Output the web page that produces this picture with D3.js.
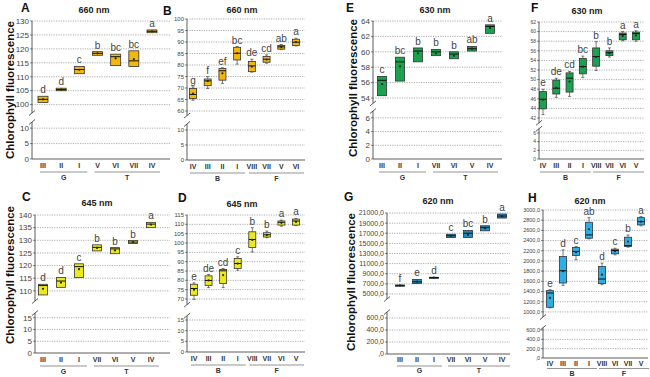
<!DOCTYPE html>
<html>
<head>
<meta charset="utf-8">
<script src="https://cdn.jsdelivr.net/npm/d3@7"></script>
<style>
  body { margin: 0; background: #fff; }
  text { font-family: "Liberation Sans", Arial, sans-serif; }
</style>
</head>
<body>
<div id="canvas"></div>
<script>
"use strict";

// ---------------- DATA ----------------
// stats per box: [whiskerLow, q1, median, q3, whiskerHigh, mean]
let catsA = ["III", "II", "I", "V", "VI", "VII", "IV"];
let boxA = [
    [100.8, 100.8, 101.9, 103.0, 103.0, 101.9],
    [105.0, 105.0, 105.4, 105.9, 105.9, 105.4],
    [111.1, 111.1, 112.6, 113.7, 113.7, 112.5],
    [117.7, 117.7, 118.4, 119.0, 119.0, 118.4],
    [114.0, 114.0, 117.2, 118.1, 118.1, 116.6],
    [113.7, 113.7, 115.7, 119.3, 119.3, 116.3],
    [125.8, 125.8, 126.3, 126.8, 126.8, 126.3]
];
let lettersA = ["d", "d", "c", "b", "bc", "bc", "a"];

let catsB = ["IV", "III", "II", "I", "VIII", "VII", "V", "VI"];
let boxB = [
    [64.7, 65.4, 67.2, 69.8, 70.5, 67.6],
    [69.8, 71.0, 73.1, 73.9, 74.9, 73.0],
    [72.0, 73.4, 77.5, 78.5, 78.8, 76.4],
    [80.4, 82.2, 85.1, 87.7, 88.0, 85.1],
    [76.9, 77.1, 79.6, 81.5, 82.5, 79.3],
    [80.8, 81.2, 82.5, 83.7, 84.4, 82.4],
    [86.7, 86.9, 87.9, 88.5, 88.9, 87.8],
    [88.3, 88.5, 89.9, 91.2, 91.6, 90.0]
];
let lettersB = ["g", "f", "ef", "bc", "de", "cd", "ab", "a"];

let catsC = ["III", "II", "I", "VII", "VI", "V", "IV"];
let boxC = [
    [108.4, 108.4, 112.1, 112.6, 112.6, 110.8],
    [111.4, 111.4, 113.9, 115.3, 115.3, 113.3],
    [115.3, 115.3, 119.6, 120.7, 120.7, 118.6],
    [125.8, 125.8, 127.2, 128.2, 128.2, 127.0],
    [124.7, 124.7, 126.6, 127.1, 127.1, 126.0],
    [128.7, 128.7, 129.3, 129.9, 129.9, 129.3],
    [135.0, 135.0, 136.4, 137.1, 137.1, 136.2]
];
let lettersC = ["d", "d", "c", "b", "b", "b", "a"];

let catsD = ["IV", "III", "II", "I", "VIII", "VII", "VI", "V"];
let boxD = [
    [69.8, 72.0, 75.6, 77.9, 78.6, 75.0],
    [76.1, 77.3, 79.9, 82.4, 83.1, 80.0],
    [76.1, 78.3, 85.1, 85.8, 86.3, 82.8],
    [85.4, 86.3, 89.0, 91.7, 92.6, 89.0],
    [95.2, 97.6, 101.9, 106.0, 108.2, 101.6],
    [102.8, 103.2, 104.4, 105.5, 106.4, 104.3],
    [109.0, 109.6, 111.1, 111.8, 112.3, 110.8],
    [109.3, 109.6, 111.8, 112.8, 113.2, 111.3]
];
let lettersD = ["e", "de", "cd", "c", "b", "b", "a", "a"];

let catsE = ["III", "II", "I", "VII", "VI", "V", "IV"];
let boxE = [
    [54.3, 54.3, 56.3, 56.8, 56.8, 55.8],
    [56.2, 56.2, 58.7, 59.3, 59.3, 58.1],
    [58.7, 58.7, 60.1, 60.5, 60.5, 59.8],
    [59.5, 59.5, 60.0, 60.3, 60.3, 59.8],
    [59.1, 59.1, 59.7, 60.0, 60.0, 59.5],
    [60.1, 60.1, 60.4, 60.7, 60.7, 60.4],
    [62.4, 62.4, 63.3, 63.5, 63.5, 63.1]
];
let lettersE = ["c", "bc", "b", "b", "b", "ab", "a"];

let catsF = ["IV", "III", "II", "I", "VIII", "VII", "VI", "V"];
let boxF = [
    [42.7, 43.9, 45.9, 47.5, 48.0, 45.8],
    [46.3, 47.0, 48.2, 49.9, 50.3, 48.3],
    [46.5, 47.4, 50.3, 51.4, 51.7, 49.6],
    [50.4, 51.2, 52.7, 54.4, 54.9, 52.7],
    [51.9, 52.8, 54.8, 56.6, 57.9, 54.7],
    [54.7, 55.0, 55.6, 56.0, 56.6, 55.5],
    [58.1, 58.3, 59.4, 59.7, 60.0, 59.1],
    [58.0, 58.3, 59.6, 59.9, 60.2, 59.2]
];
let lettersF = ["e", "de", "cd", "bc", "b", "b", "a", "a"];

let catsG = ["III", "II", "I", "VII", "VI", "V", "IV"];
let boxG = [
    [6600, 6600, 6700, 6750, 6750, 6680],
    [7060, 7060, 7400, 7860, 7860, 7450],
    [8150, 8150, 8250, 8300, 8300, 8230],
    [16150, 16150, 16500, 16800, 16800, 16480],
    [16150, 16150, 17000, 17550, 17550, 16700],
    [17480, 17480, 18150, 18480, 18480, 18000],
    [20000, 20000, 20400, 20800, 20800, 20350]
];
let lettersG = ["f", "e", "d", "c", "bc", "b", "a"];

let catsH = ["IV", "III", "II", "I", "VIII", "VI", "VII", "V"];
let boxH = [
    [1078, 1091, 1371, 1417, 1436, 1274],
    [1521, 1567, 1808, 2088, 2218, 1800],
    [2023, 2107, 2186, 2264, 2283, 2170],
    [2433, 2446, 2511, 2759, 2850, 2622],
    [1534, 1554, 1645, 1893, 1958, 1730],
    [2120, 2140, 2205, 2231, 2250, 2190],
    [2270, 2283, 2303, 2466, 2510, 2381],
    [2690, 2707, 2772, 2850, 2870, 2770]
];
let lettersH = ["e", "d", "c", "ab", "d", "c", "b", "a"];

let groupsGT = [{ name: "G", from: 0, to: 2 }, { name: "T", from: 3, to: 6 }];
let groupsBF = [{ name: "B", from: 0, to: 3 }, { name: "F", from: 4, to: 7 }];

// ---------------- SVG ----------------
let svgWidth = 650;
let svgHeight = 377;

let svg = d3.select("#canvas")
    .append("svg")
    .attr("width", svgWidth)
    .attr("height", svgHeight);

let yTitle = "Chlorophyll fluorescence";

let fmtInt = d => String(d);
let fmtComma = d => d === 0 ? ",0" : d + ",0";

/* ---------------- PANEL ---------------- */
function drawPanel(p) {

    let g = svg.append("g");

    let yUp = d3.scaleLinear().domain(p.upDomain).range(p.upRange);
    let yLo = d3.scaleLinear().domain(p.loDomain).range(p.loRange);
    let x = d3.scalePoint().domain(d3.range(p.cats.length)).range(p.catRange);

    let y0 = yLo(0);
    let off = p.offsets || [9, 13, 21];

    // panel letter + title
    g.append("text")
        .attr("x", p.letterX)
        .attr("y", p.letterY)
        .attr("font-size", "12px")
        .attr("font-weight", "bold")
        .attr("fill", "#111")
        .text(p.label);

    g.append("text")
        .attr("x", p.titleX)
        .attr("y", p.titleY)
        .attr("text-anchor", "middle")
        .attr("font-size", "9px")
        .attr("font-weight", "bold")
        .attr("fill", "#222")
        .text(p.title);

    if (p.yTitleX) {
        g.append("text")
            .attr("transform", "translate(" + p.yTitleX + "," + p.yTitleY + ") rotate(-90)")
            .attr("text-anchor", "middle")
            .attr("font-size", "11.5px")
            .attr("font-weight", "bold")
            .attr("fill", "#111")
            .text(yTitle);
    }

    // gridlines + tick labels
    let gridTicks = [];
    p.upTicks.forEach(t => gridTicks.push(yUp(t)));
    p.loTicks.forEach(t => { if (t !== 0) gridTicks.push(yLo(t)); });

    gridTicks.forEach(function (yy) {
        g.append("line")
            .attr("x1", p.x0)
            .attr("x2", p.x1)
            .attr("y1", yy)
            .attr("y2", yy)
            .attr("stroke", "#999")
            .attr("stroke-width", 0.8)
            .attr("stroke-dasharray", "1.2,1.2");
    });

    let tickLabels = p.upTicks.map(t => ({ v: t, y: yUp(t) }))
        .concat(p.loTicks.map(t => ({ v: t, y: yLo(t) })));

    tickLabels.forEach(function (t) {
        g.append("line")
            .attr("x1", p.x0 - 2)
            .attr("x2", p.x0)
            .attr("y1", t.y)
            .attr("y2", t.y)
            .attr("stroke", "#555")
            .attr("stroke-width", 0.7);
        g.append("text")
            .attr("x", p.x0 - 3)
            .attr("y", t.y)
            .attr("dy", "0.35em")
            .attr("text-anchor", "end")
            .attr("font-size", p.tickSize)
            .attr("fill", "#444")
            .text(p.fmt(t.v));
    });

    // axis with break
    let breakTop = p.upRange[0];
    let breakBot = p.loRange[1];

    g.append("line")
        .attr("x1", p.x0).attr("x2", p.x0)
        .attr("y1", p.upRange[1]).attr("y2", breakTop)
        .attr("stroke", "#333").attr("stroke-width", 0.8);

    g.append("line")
        .attr("x1", p.x0).attr("x2", p.x0)
        .attr("y1", breakBot).attr("y2", y0)
        .attr("stroke", "#333").attr("stroke-width", 0.8);

    [breakTop, breakBot].forEach(function (yy) {
        g.append("line")
            .attr("x1", p.x0 - 3).attr("x2", p.x0 + 3)
            .attr("y1", yy + 2.5).attr("y2", yy - 2.5)
            .attr("stroke", "#333").attr("stroke-width", 0.8);
    });

    g.append("line")
        .attr("x1", p.x0).attr("x2", p.x1)
        .attr("y1", y0).attr("y2", y0)
        .attr("stroke", "#333").attr("stroke-width", 0.8);

    // boxes
    let bw = p.boxWidth;

    p.stats.forEach(function (s, i) {
        let cx = x(i);
        let lo = s[0], q1 = s[1], med = s[2], q3 = s[3], hi = s[4], mean = s[5];

        if (hi > q3) {
            g.append("line").attr("x1", cx).attr("x2", cx)
                .attr("y1", yUp(q3)).attr("y2", yUp(hi))
                .attr("stroke", "#444").attr("stroke-width", 0.7);
            g.append("line").attr("x1", cx - 1.5).attr("x2", cx + 1.5)
                .attr("y1", yUp(hi)).attr("y2", yUp(hi))
                .attr("stroke", "#444").attr("stroke-width", 0.7);
        }
        if (lo < q1) {
            g.append("line").attr("x1", cx).attr("x2", cx)
                .attr("y1", yUp(q1)).attr("y2", yUp(lo))
                .attr("stroke", "#444").attr("stroke-width", 0.7);
            g.append("line").attr("x1", cx - 1.5).attr("x2", cx + 1.5)
                .attr("y1", yUp(lo)).attr("y2", yUp(lo))
                .attr("stroke", "#444").attr("stroke-width", 0.7);
        }

        let top = yUp(q3);
        let h = Math.max(yUp(q1) - top, 1.2);

        g.append("rect")
            .attr("x", cx - bw / 2)
            .attr("y", top)
            .attr("width", bw)
            .attr("height", h)
            .attr("fill", p.color)
            .attr("stroke", "#333")
            .attr("stroke-width", 0.8);

        g.append("line")
            .attr("x1", cx - bw / 2).attr("x2", cx + bw / 2)
            .attr("y1", yUp(med)).attr("y2", yUp(med))
            .attr("stroke", "#111").attr("stroke-width", 1);

        g.append("circle")
            .attr("cx", cx)
            .attr("cy", yUp(mean))
            .attr("r", 1.1)
            .attr("fill", "#222");

        g.append("text")
            .attr("x", cx)
            .attr("y", yUp(Math.max(hi, q3)) - 3)
            .attr("text-anchor", "middle")
            .attr("font-size", "10px")
            .attr("fill", "#444")
            .text(p.letters[i]);
    });

    // category labels
    p.cats.forEach(function (c, i) {
        g.append("text")
            .attr("x", x(i))
            .attr("y", y0 + off[0])
            .attr("text-anchor", "middle")
            .attr("font-size", "7px")
            .attr("font-weight", "bold")
            .attr("fill", "#333")
            .text(c);
    });

    // group lines
    p.groups.forEach(function (gr) {
        let left = x(gr.from) - 3;
        let right = x(gr.to) + 8;
        g.append("line")
            .attr("x1", left).attr("x2", right)
            .attr("y1", y0 + off[1]).attr("y2", y0 + off[1])
            .attr("stroke", "#888").attr("stroke-width", 0.9);
        g.append("text")
            .attr("x", (left + right) / 2)
            .attr("y", y0 + off[2])
            .attr("text-anchor", "middle")
            .attr("font-size", "7px")
            .attr("font-weight", "bold")
            .attr("fill", "#333")
            .text(gr.name);
    });
}

/* ---------------- PANELS ---------------- */
drawPanel({
    label: "A", letterX: 21, letterY: 12, title: "660 nm", titleX: 94, titleY: 13,
    yTitleX: 14, yTitleY: 90,
    x0: 32, x1: 170,
    upDomain: [97, 130], upRange: [113, 21], upTicks: d3.range(100, 131, 5),
    loDomain: [0, 12], loRange: [159, 122], loTicks: [0, 5, 10],
    cats: catsA, stats: boxA, letters: lettersA, catRange: [43, 152],
    groups: groupsGT, color: "#f3b80c", boxWidth: 10, tickSize: "8px", fmt: fmtInt
});

drawPanel({
    label: "B", letterX: 163, letterY: 15, title: "660 nm", titleX: 242, titleY: 13,
    x0: 187, x1: 305,
    upDomain: [58, 100], upRange: [115.6, 19], upTicks: d3.range(60, 101, 5),
    loDomain: [0, 12], loRange: [160, 124], loTicks: [0, 5, 10],
    cats: catsB, stats: boxB, letters: lettersB, catRange: [193, 296],
    groups: groupsBF, color: "#f3b80c", boxWidth: 7, tickSize: "6px", fmt: fmtInt
});

drawPanel({
    label: "C", letterX: 22, letterY: 201, title: "645 nm", titleX: 97, titleY: 206,
    yTitleX: 14, yTitleY: 275,
    x0: 35, x1: 170,
    upDomain: [106, 140], upRange: [301, 215], upTicks: d3.range(110, 141, 5),
    loDomain: [0, 17], loRange: [353, 313], loTicks: [0, 5, 10, 15],
    cats: catsC, stats: boxC, letters: lettersC, catRange: [43, 151],
    groups: groupsGT, color: "#ecea1e", boxWidth: 9, tickSize: "8px", fmt: fmtInt
});

drawPanel({
    label: "D", letterX: 178, letterY: 202, title: "645 nm", titleX: 242, titleY: 207,
    x0: 187, x1: 305,
    upDomain: [67, 115], upRange: [304.6, 215], upTicks: d3.range(70, 116, 5),
    loDomain: [0, 17], loRange: [352, 315.7], loTicks: [0, 5, 10, 15],
    cats: catsD, stats: boxD, letters: lettersD, catRange: [194, 296],
    groups: groupsBF, color: "#ecea1e", boxWidth: 7, tickSize: "6px", fmt: fmtInt
});

drawPanel({
    label: "E", letterX: 346, letterY: 12, title: "630 nm", titleX: 435, titleY: 13,
    yTitleX: 357, yTitleY: 88,
    x0: 373, x1: 502,
    upDomain: [53.3, 64], upRange: [103.4, 21], upTicks: d3.range(54, 65, 2),
    loDomain: [0, 7], loRange: [159, 111], loTicks: [0, 2, 4, 6],
    cats: catsE, stats: boxE, letters: lettersE, catRange: [382, 490],
    groups: groupsGT, color: "#1ba150", boxWidth: 9, tickSize: "8px", fmt: fmtInt
});

drawPanel({
    label: "F", letterX: 531, letterY: 12, title: "630 nm", titleX: 587, titleY: 14,
    x0: 539, x1: 644,
    upDomain: [41, 62], upRange: [122.8, 22], upTicks: d3.range(42, 63, 2),
    loDomain: [0, 7], loRange: [159, 128.7], loTicks: [0, 2, 4, 6],
    cats: catsF, stats: boxF, letters: lettersF, catRange: [543, 636],
    groups: groupsBF, color: "#1ba150", boxWidth: 7, tickSize: "5px", fmt: fmtInt
});

drawPanel({
    label: "G", letterX: 344, letterY: 201, title: "620 nm", titleX: 438, titleY: 204,
    yTitleX: 355, yTitleY: 282,
    x0: 387, x1: 510,
    upDomain: [4000, 21000], upRange: [299, 213], upTicks: d3.range(5000, 21001, 2000),
    loDomain: [0, 700], loRange: [354, 312], loTicks: [0, 200, 400, 600],
    cats: catsG, stats: boxG, letters: lettersG, catRange: [400, 502],
    groups: groupsGT, color: "#1a8dbf", boxWidth: 9, tickSize: "7px", fmt: fmtComma,
    offsets: [8, 12, 19]
});

drawPanel({
    label: "H", letterX: 528, letterY: 202, title: "620 nm", titleX: 590, titleY: 204,
    x0: 543, x1: 648,
    upDomain: [900, 3000], upRange: [317, 210], upTicks: d3.range(1000, 3001, 200),
    loDomain: [0, 650], loRange: [358, 327.7], loTicks: [0, 200, 400, 600],
    cats: catsH, stats: boxH, letters: lettersH, catRange: [550, 641],
    groups: groupsBF, color: "#2bafe6", boxWidth: 7, tickSize: "5.5px", fmt: fmtComma,
    offsets: [7.5, 10.5, 17.5]
});
</script>
</body>
</html>
